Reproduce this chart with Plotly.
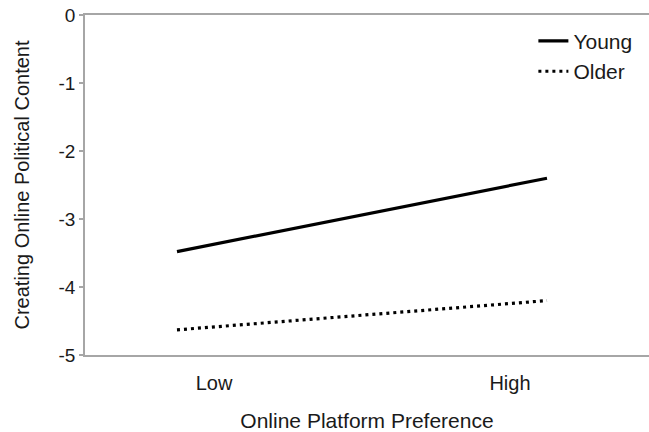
import plotly.graph_objects as go

# Data
x_positions = [0, 1]
young = [-3.48, -2.40]
older = [-4.63, -4.20]
x_tick_vals = [0.1, 0.9]
x_tick_labels = ["Low", "High"]
y_tick_vals = [0, -1, -2, -3, -4, -5]
y_tick_labels = ["0", "-1", "-2", "-3", "-4", "-5"]

FONT = "Liberation Sans, Arial, sans-serif"
TXT = "#1a1a1a"
AX = "#a6a6a6"

fig = go.Figure()
fig.add_trace(go.Scatter(x=x_positions, y=young, mode="lines", name="Young",
                         line=dict(color="black", width=3.2), legendgroup="a"))
fig.add_trace(go.Scatter(x=x_positions, y=older, mode="lines", name="Older",
                         line=dict(color="black", width=3.2, dash="3px,4px"), legendgroup="b"))

fig.update_layout(
    width=649, height=432,
    margin=dict(l=85, r=0, t=15, b=77),
    paper_bgcolor="white", plot_bgcolor="white",
    font=dict(family=FONT, size=20, color=TXT),
    legend=dict(x=0.795, y=0.983, xanchor="left", yanchor="top",
                bgcolor="rgba(0,0,0,0)", font=dict(size=21, color=TXT),
                traceorder="grouped", tracegroupgap=0),
    showlegend=True,
)
fig.update_xaxes(range=[-0.2486, 1.2757], tickvals=x_tick_vals, ticktext=x_tick_labels,
                 showgrid=False, zeroline=False, showline=True, linecolor=AX, linewidth=1.5,
                 mirror=True, ticks="", ticklabelstandoff=9, tickfont=dict(size=20),
                 title=dict(text="Online Platform Preference", font=dict(size=21), standoff=22))
fig.update_yaxes(range=[-5, 0], tickvals=y_tick_vals, ticktext=y_tick_labels,
                 showgrid=False, zeroline=False, showline=True, linecolor=AX, linewidth=1.5,
                 ticks="outside", ticklen=4, tickcolor=AX, tickwidth=1.5, tickfont=dict(size=19),
                 title=dict(text="Creating Online Political Content", font=dict(size=20), standoff=24))

fig.write_html("out.html")
